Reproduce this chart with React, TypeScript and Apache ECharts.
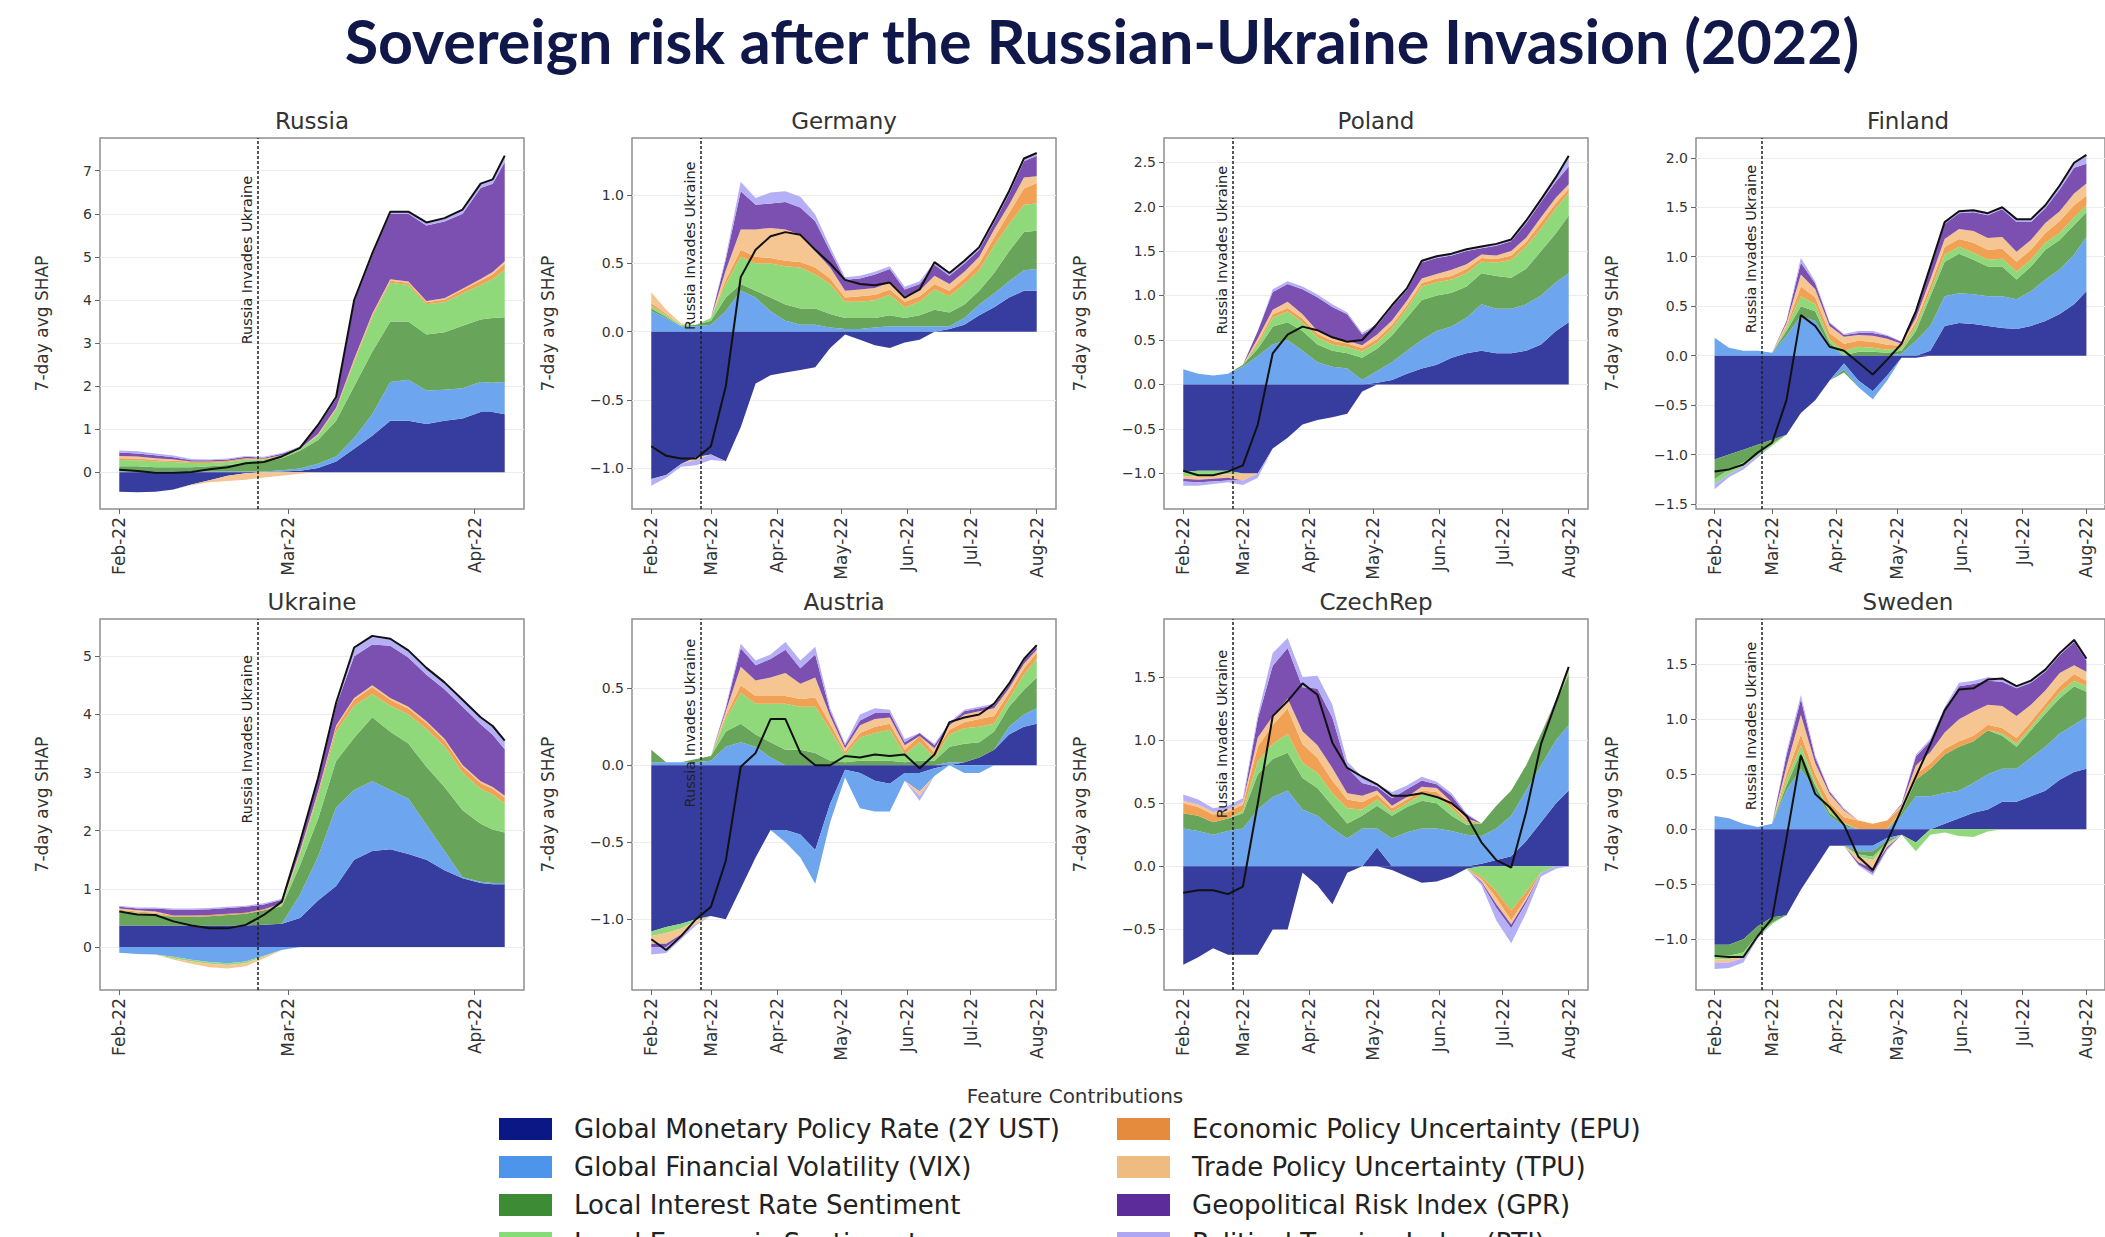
import React, { useEffect, useRef } from 'react';
import * as echarts from 'echarts';

const W = 2105;
const H = 1237;

const FEATURES = [
  'Global Monetary Policy Rate (2Y UST)',
  'Global Financial Volatility (VIX)',
  'Local Interest Rate Sentiment',
  'Local Economic Sentiment',
  'Economic Policy Uncertainty (EPU)',
  'Trade Policy Uncertainty (TPU)',
  'Geopolitical Risk Index (GPR)',
  'Political Tension Index (PTI)',
];
const PLOT_COLORS = ['#363d9f', '#6da6ee', '#69a45b', '#8fd97b', '#f1a153', '#f6c692', '#7b50b1', '#b5aff5'];
const LEGEND_COLORS = ['#0b1785', '#4d95ea', '#3e8b36', '#86dd78', '#e48b3d', '#efbb80', '#5d2c9b', '#aea6f3'];

const INVASION_DATE = '2022-02-24';
const INVASION_TEXT = 'Russia Invades Ukraine';
const Y_NAME = '7-day avg SHAP';
const MAIN_TITLE = 'Sovereign risk after the Russian-Ukraine Invasion (2022)';
const LEGEND_TITLE = 'Feature Contributions';

const SHORT_DATES = ['2022-02-01', '2022-02-04', '2022-02-07', '2022-02-10', '2022-02-13', '2022-02-16', '2022-02-19', '2022-02-22', '2022-02-25', '2022-02-28', '2022-03-03', '2022-03-06', '2022-03-09', '2022-03-12', '2022-03-15', '2022-03-18', '2022-03-21', '2022-03-24', '2022-03-27', '2022-03-30', '2022-04-02', '2022-04-04', '2022-04-06'];
const LONG_DATES = ['2022-02-01', '2022-02-08', '2022-02-15', '2022-02-22', '2022-03-01', '2022-03-08', '2022-03-15', '2022-03-22', '2022-03-29', '2022-04-05', '2022-04-12', '2022-04-19', '2022-04-26', '2022-05-03', '2022-05-10', '2022-05-17', '2022-05-24', '2022-05-31', '2022-06-07', '2022-06-14', '2022-06-21', '2022-06-28', '2022-07-05', '2022-07-12', '2022-07-19', '2022-07-26', '2022-08-01'];

const SHORT_TICK_DATES = ['2022-02-01', '2022-03-01', '2022-04-01'];
const SHORT_TICK_LABELS = ['Feb-22', 'Mar-22', 'Apr-22'];
const LONG_TICK_DATES = ['2022-02-01', '2022-03-01', '2022-04-01', '2022-05-01', '2022-06-01', '2022-07-01', '2022-08-01'];
const LONG_TICK_LABELS = ['Feb-22', 'Mar-22', 'Apr-22', 'May-22', 'Jun-22', 'Jul-22', 'Aug-22'];

// rows: GMPR, VIX, LIRS, LES, EPU, TPU, GPR, PTI
const RUSSIA = [
  [-0.45, -0.46, -0.45, -0.4, -0.28, -0.18, -0.08, -0.02, 0.0, 0.02, 0.04, 0.1, 0.25, 0.55, 0.85, 1.2, 1.2, 1.12, 1.2, 1.25, 1.4, 1.4, 1.35],
  [0.02, 0.02, 0.02, 0.02, 0.02, 0.02, 0.02, 0.02, 0.02, 0.03, 0.05, 0.1, 0.12, 0.25, 0.5, 0.9, 0.95, 0.78, 0.72, 0.7, 0.7, 0.68, 0.75],
  [0.12, 0.12, 0.1, 0.1, 0.1, 0.12, 0.15, 0.2, 0.22, 0.28, 0.41, 0.55, 0.83, 1.2, 1.45, 1.4, 1.35, 1.3, 1.33, 1.45, 1.45, 1.5, 1.5],
  [0.15, 0.14, 0.13, 0.12, 0.1, 0.08, 0.07, 0.08, 0.06, 0.05, 0.05, 0.1, 0.25, 0.55, 0.8, 0.9, 0.85, 0.7, 0.7, 0.75, 0.8, 0.9, 1.1],
  [0.04, 0.04, 0.04, 0.03, 0.03, 0.03, 0.03, 0.03, 0.02, 0.02, 0.0, 0.02, 0.03, 0.05, 0.05, 0.05, 0.05, 0.05, 0.06, 0.08, 0.1, 0.12, 0.15],
  [0.05, 0.05, 0.04, 0.03, -0.02, -0.05, -0.12, -0.15, -0.12, -0.08, -0.03, 0.02, 0.02, 0.03, 0.03, 0.03, 0.03, 0.03, 0.03, 0.03, 0.04, 0.05, 0.05],
  [0.08, 0.07, 0.07, 0.05, 0.03, 0.03, 0.03, 0.03, 0.02, 0.03, 0.03, 0.18, 0.2, 1.32, 1.35, 1.52, 1.57, 1.75, 1.78, 1.74, 2.11, 2.05, 2.3],
  [0.05, 0.05, 0.04, 0.04, 0.03, 0.02, 0.02, 0.02, 0.02, 0.02, 0.02, 0.03, 0.05, 0.05, 0.05, 0.05, 0.05, 0.07, 0.08, 0.1, 0.1, 0.1, 0.15],
];
const UKRAINE = [
  [0.37, 0.37, 0.37, 0.37, 0.37, 0.37, 0.37, 0.37, 0.38, 0.4, 0.5, 0.8, 1.05, 1.5, 1.65, 1.68, 1.6, 1.5, 1.32, 1.18, 1.1, 1.08, 1.08],
  [-0.1, -0.12, -0.13, -0.17, -0.22, -0.26, -0.28, -0.25, -0.15, -0.05, 0.4, 0.75, 1.35, 1.2, 1.2, 1.02, 0.95, 0.6, 0.33, 0.02, 0.02, 0.02, 0.02],
  [0.22, 0.2, 0.18, 0.15, 0.15, 0.16, 0.18, 0.2, 0.25, 0.3, 0.5, 0.65, 0.8, 0.9, 1.1, 1.0, 0.95, 1.0, 1.1, 1.15, 1.0, 0.92, 0.87],
  [0.03, 0.02, 0.02, -0.03, -0.03, -0.03, -0.03, -0.03, -0.02, 0.02, 0.2, 0.4, 0.5, 0.55, 0.4, 0.45, 0.5, 0.65, 0.7, 0.65, 0.6, 0.6, 0.5],
  [0.02, 0.02, 0.02, 0.02, 0.02, 0.02, 0.02, 0.02, 0.02, 0.02, 0.03, 0.05, 0.08, 0.1, 0.12, 0.1, 0.1, 0.1, 0.1, 0.1, 0.1, 0.1, 0.1],
  [0.02, 0.02, 0.02, -0.02, -0.04, -0.06, -0.06, -0.05, -0.03, 0.01, 0.02, 0.02, 0.03, 0.03, 0.03, 0.03, 0.03, 0.03, 0.03, 0.03, 0.03, 0.03, 0.03],
  [0.03, 0.03, 0.05, 0.1, 0.1, 0.1, 0.1, 0.1, 0.08, 0.06, 0.13, 0.2, 0.34, 0.72, 0.7, 0.9, 0.85, 0.8, 0.85, 1.0, 0.98, 0.9, 0.8],
  [0.02, 0.02, 0.02, 0.02, 0.02, 0.02, 0.02, 0.02, 0.02, 0.02, 0.02, 0.03, 0.05, 0.15, 0.15, 0.12, 0.12, 0.12, 0.12, 0.12, 0.12, 0.15, 0.15],
];
const GERMANY = [
  [-1.08, -1.05, -0.97, -0.92, -0.9, -0.95, -0.7, -0.38, -0.32, -0.3, -0.28, -0.26, -0.12, -0.02, -0.06, -0.1, -0.12, -0.08, -0.06, 0.0, 0.02, 0.05, 0.12, 0.18, 0.25, 0.3, 0.3],
  [0.15, 0.1, 0.04, 0.04, 0.05, 0.15, 0.3, 0.25, 0.15, 0.08, 0.05, 0.05, 0.03, 0.02, 0.02, 0.03, 0.04, 0.04, 0.04, 0.04, 0.02, 0.05, 0.08, 0.1, 0.12, 0.15, 0.16],
  [0.02, 0.01, 0.0, 0.01, 0.03, 0.1, 0.05, 0.05, 0.1, 0.12, 0.12, 0.12, 0.1, 0.08, 0.08, 0.07, 0.08, 0.06, 0.08, 0.12, 0.1, 0.1, 0.1, 0.15, 0.22, 0.28, 0.28],
  [0.02, 0.01, 0.01, 0.0, 0.02, 0.1, 0.2, 0.2, 0.25, 0.28, 0.3, 0.25, 0.22, 0.12, 0.12, 0.13, 0.15, 0.08, 0.1, 0.15, 0.12, 0.15, 0.15, 0.2, 0.2, 0.2, 0.2],
  [0.02, 0.01, 0.0, 0.0, 0.0, 0.03, 0.05, 0.05, 0.04, 0.04, 0.04, 0.05, 0.04, 0.03, 0.04, 0.04, 0.04, 0.04, 0.04, 0.04, 0.04, 0.04, 0.05, 0.06, 0.08, 0.12, 0.15],
  [0.08, 0.03, 0.01, -0.02, 0.0, 0.07, 0.15, 0.2, 0.22, 0.23, 0.2, 0.12, 0.08, 0.05, 0.05, 0.05, 0.05, 0.04, 0.04, 0.06, 0.05, 0.05, 0.05, 0.06, 0.06, 0.08, 0.05],
  [0.0, 0.0, 0.0, 0.0, 0.0, 0.08, 0.28, 0.18, 0.18, 0.2, 0.2, 0.22, 0.12, 0.08, 0.08, 0.1, 0.1, 0.05, 0.05, 0.08, 0.06, 0.06, 0.05, 0.05, 0.08, 0.12, 0.15],
  [-0.05, -0.02, -0.02, -0.04, -0.04, 0.02, 0.07, 0.05, 0.08, 0.08, 0.08, 0.05, 0.03, 0.02, 0.02, 0.02, 0.02, 0.02, 0.02, 0.02, 0.02, 0.02, 0.02, 0.02, 0.02, 0.02, 0.02],
];
const POLAND = [
  [-0.98, -0.97, -0.97, -0.97, -1.0, -1.0, -0.72, -0.6, -0.45, -0.4, -0.37, -0.33, -0.08, 0.02, 0.05, 0.12, 0.18, 0.22, 0.3, 0.35, 0.38, 0.35, 0.35, 0.38, 0.45, 0.6, 0.7],
  [0.17, 0.12, 0.1, 0.12, 0.2, 0.32, 0.45, 0.5, 0.38, 0.25, 0.2, 0.18, 0.05, 0.13, 0.2, 0.26, 0.32, 0.38, 0.35, 0.4, 0.52, 0.5, 0.5, 0.52, 0.55, 0.55, 0.55],
  [0.0, 0.0, 0.0, 0.0, 0.02, 0.08, 0.2, 0.2, 0.22, 0.2, 0.18, 0.17, 0.25, 0.25, 0.3, 0.37, 0.45, 0.4, 0.38, 0.35, 0.35, 0.37, 0.35, 0.4, 0.5, 0.55, 0.65],
  [-0.05, -0.06, -0.05, -0.04, 0.0, 0.05, 0.1, 0.12, 0.1, 0.08, 0.07, 0.07, 0.07, 0.07, 0.08, 0.1, 0.15, 0.15, 0.15, 0.15, 0.13, 0.15, 0.2, 0.25, 0.25, 0.28, 0.25],
  [0.0, 0.0, 0.0, 0.0, 0.0, 0.03, 0.04, 0.04, 0.04, 0.04, 0.04, 0.04, 0.04, 0.04, 0.04, 0.04, 0.04, 0.04, 0.04, 0.05, 0.04, 0.04, 0.05, 0.05, 0.07, 0.06, 0.05],
  [-0.03, -0.04, -0.04, -0.04, -0.08, 0.04, 0.05, 0.07, 0.05, 0.03, 0.03, 0.03, 0.03, 0.05, 0.05, 0.05, 0.05, 0.05, 0.07, 0.05, 0.04, 0.04, 0.05, 0.05, 0.06, 0.06, 0.05],
  [-0.03, -0.03, -0.03, -0.03, 0.0, 0.08, 0.2, 0.2, 0.28, 0.38, 0.35, 0.3, 0.12, 0.1, 0.15, 0.12, 0.18, 0.18, 0.16, 0.15, 0.07, 0.11, 0.11, 0.16, 0.17, 0.18, 0.2],
  [-0.05, -0.04, -0.03, -0.02, -0.05, -0.05, 0.03, 0.03, 0.03, 0.03, 0.03, 0.02, 0.02, 0.02, 0.02, 0.02, 0.02, 0.02, 0.02, 0.02, 0.02, 0.02, 0.02, 0.03, 0.03, 0.05, 0.12],
];
const FINLAND = [
  [-1.05, -1.0, -0.95, -0.9, -0.85, -0.8, -0.58, -0.45, -0.25, -0.08, -0.25, -0.36, -0.2, -0.02, -0.02, 0.05, 0.3, 0.33, 0.32, 0.3, 0.28, 0.27, 0.3, 0.35, 0.42, 0.52, 0.65],
  [0.18, 0.08, 0.05, 0.05, 0.03, 0.2, 0.4, 0.35, 0.1, -0.06, -0.07, -0.08, -0.05, 0.02, 0.15, 0.25, 0.3, 0.3, 0.3, 0.3, 0.32, 0.3, 0.35, 0.42, 0.45, 0.5, 0.55],
  [-0.2, -0.15, -0.13, -0.08, -0.04, 0.05, 0.1, 0.1, 0.03, -0.03, 0.04, 0.04, 0.03, 0.03, 0.1, 0.3, 0.35, 0.4, 0.35, 0.3, 0.3, 0.2, 0.25, 0.3, 0.3, 0.3, 0.25],
  [-0.05, -0.05, -0.04, -0.03, -0.02, 0.03, 0.1, 0.07, 0.03, 0.05, 0.05, 0.04, 0.03, 0.03, 0.05, 0.05, 0.07, 0.07, 0.07, 0.07, 0.08, 0.08, 0.07, 0.07, 0.07, 0.08, 0.07],
  [0.0, 0.0, 0.0, 0.0, 0.0, 0.02, 0.1, 0.07, 0.07, 0.07, 0.06, 0.06, 0.05, 0.02, 0.04, 0.06, 0.08, 0.08, 0.1, 0.1, 0.1, 0.1, 0.1, 0.1, 0.12, 0.12, 0.1],
  [0.0, 0.0, 0.0, 0.0, 0.0, 0.03, 0.12, 0.08, 0.07, 0.07, 0.06, 0.06, 0.06, 0.02, 0.04, 0.06, 0.08, 0.1, 0.12, 0.12, 0.12, 0.1, 0.1, 0.1, 0.1, 0.12, 0.12],
  [0.0, 0.0, 0.0, 0.0, 0.0, 0.02, 0.12, 0.06, 0.03, 0.02, 0.02, 0.03, 0.03, 0.02, 0.08, 0.12, 0.15, 0.16, 0.19, 0.23, 0.28, 0.3, 0.18, 0.15, 0.22, 0.26, 0.2],
  [-0.05, -0.03, -0.03, -0.02, 0.0, 0.0, 0.05, 0.02, 0.01, 0.01, 0.02, 0.02, 0.01, 0.0, 0.01, 0.01, 0.02, 0.02, 0.02, 0.02, 0.02, 0.03, 0.03, 0.03, 0.04, 0.05, 0.09],
];
const AUSTRIA = [
  [-1.08, -1.05, -1.03, -1.0, -0.98, -1.0, -0.8, -0.6, -0.42, -0.42, -0.45, -0.55, -0.25, -0.03, -0.05, -0.1, -0.12, -0.05, -0.05, -0.02, 0.0, 0.02, 0.05, 0.1, 0.2, 0.25, 0.27],
  [0.02, 0.02, 0.02, 0.02, 0.03, 0.12, 0.15, 0.12, 0.05, -0.08, -0.15, -0.22, -0.12, -0.05, -0.23, -0.2, -0.18, -0.05, -0.12, -0.05, 0.02, -0.05, -0.05, 0.0, 0.05, 0.08, 0.1],
  [0.08, 0.0, 0.0, 0.02, 0.03, 0.1, 0.12, 0.08, 0.1, 0.1, 0.1, 0.08, 0.03, 0.02, 0.03, 0.03, 0.03, 0.02, 0.03, 0.03, 0.1, 0.12, 0.1, 0.12, 0.13, 0.16, 0.2],
  [-0.03, -0.04, -0.03, -0.01, 0.0, 0.08, 0.2, 0.2, 0.25, 0.3, 0.28, 0.3, 0.2, 0.05, 0.15, 0.18, 0.2, 0.05, 0.12, 0.02, 0.08, 0.1, 0.1, 0.05, 0.05, 0.1, 0.12],
  [0.0, 0.0, 0.0, 0.0, 0.0, 0.02, 0.05, 0.05, 0.05, 0.05, 0.05, 0.06, 0.04, 0.02, 0.03, 0.04, 0.04, 0.03, 0.04, 0.03, 0.03, 0.04, 0.05, 0.05, 0.04, 0.04, 0.04],
  [-0.05, -0.07, -0.04, -0.02, 0.0, 0.03, 0.12, 0.1, 0.12, 0.15, 0.1, 0.13, 0.05, 0.02, 0.05, 0.05, 0.04, 0.03, -0.03, 0.03, 0.03, 0.05, 0.05, 0.05, 0.03, 0.03, 0.02],
  [-0.02, -0.02, -0.01, 0.0, 0.0, 0.02, 0.12, 0.1, 0.12, 0.15, 0.1, 0.15, 0.03, 0.02, 0.03, 0.04, 0.03, 0.02, 0.02, 0.02, 0.01, 0.02, 0.02, 0.02, 0.02, 0.02, 0.02],
  [-0.05, -0.04, -0.02, -0.01, 0.0, 0.01, 0.03, 0.03, 0.03, 0.05, 0.05, 0.05, 0.02, 0.01, 0.04, 0.03, 0.02, 0.02, -0.03, 0.01, 0.01, 0.01, 0.01, 0.01, 0.01, 0.01, 0.01],
];
const CZECHREP = [
  [-0.78, -0.72, -0.65, -0.7, -0.7, -0.7, -0.5, -0.5, -0.05, -0.15, -0.3, -0.05, 0.0, 0.15, -0.03, -0.08, -0.13, -0.12, -0.08, -0.02, 0.02, 0.05, 0.08, 0.2, 0.35, 0.5, 0.6],
  [0.3, 0.28, 0.25, 0.28, 0.3, 0.45, 0.55, 0.6, 0.45, 0.4, 0.3, 0.22, 0.3, 0.15, 0.22, 0.27, 0.3, 0.3, 0.28, 0.25, 0.22, 0.25, 0.32, 0.4, 0.45, 0.5, 0.52],
  [0.12, 0.12, 0.1, 0.1, 0.12, 0.28, 0.3, 0.3, 0.25, 0.22, 0.18, 0.12, 0.1, 0.18, 0.18, 0.2, 0.22, 0.2, 0.12, 0.08, 0.1, 0.18, 0.2, 0.2, 0.25, 0.3, 0.4],
  [0.0, 0.0, 0.0, 0.0, 0.02, 0.1, 0.12, 0.15, 0.12, 0.12, 0.1, 0.12, 0.05, 0.05, 0.03, 0.03, 0.05, 0.06, 0.06, 0.02, -0.08, -0.2, -0.35, -0.2, -0.05, 0.0, 0.02],
  [0.08, 0.07, 0.06, 0.05, 0.05, 0.12, 0.15, 0.2, 0.15, 0.12, 0.1, 0.07, 0.06, 0.04, 0.03, 0.03, 0.03, 0.03, 0.03, 0.02, -0.02, -0.05, -0.08, -0.05, 0.0, 0.01, 0.01],
  [0.02, 0.02, 0.02, 0.02, 0.02, 0.07, 0.07, 0.08, 0.1, 0.1, 0.1, 0.05, 0.05, 0.03, 0.02, 0.02, 0.03, 0.03, 0.02, 0.01, -0.02, -0.05, -0.03, -0.02, 0.0, 0.0, 0.0],
  [0.0, 0.0, 0.0, 0.0, 0.0, 0.15, 0.4, 0.4, 0.35, 0.45, 0.4, 0.2, 0.1, 0.03, 0.06, 0.06, 0.05, 0.03, 0.05, 0.03, -0.01, -0.03, -0.03, -0.02, 0.0, 0.01, 0.0],
  [0.05, 0.04, 0.03, 0.03, 0.03, 0.03, 0.1, 0.08, 0.08, 0.1, 0.1, 0.05, 0.05, 0.02, 0.05, 0.03, 0.03, 0.02, 0.02, 0.01, -0.02, -0.1, -0.12, -0.08, -0.03, -0.02, 0.03],
];
const SWEDEN = [
  [-1.05, -1.05, -1.0, -0.88, -0.8, -0.78, -0.55, -0.35, -0.15, -0.15, -0.15, -0.15, -0.08, -0.05, -0.12, 0.0, 0.05, 0.1, 0.15, 0.18, 0.25, 0.25, 0.3, 0.35, 0.45, 0.52, 0.55],
  [0.12, 0.1, 0.05, 0.02, 0.05, 0.35, 0.55, 0.35, 0.12, 0.03, -0.05, -0.05, -0.02, 0.12, 0.3, 0.3, 0.28, 0.25, 0.27, 0.32, 0.3, 0.3, 0.35, 0.4, 0.42, 0.43, 0.47],
  [-0.1, -0.1, -0.12, -0.08, -0.05, 0.05, 0.15, 0.05, 0.03, 0.02, -0.03, -0.05, -0.02, 0.03, 0.15, 0.25, 0.35, 0.4, 0.38, 0.4, 0.3, 0.2, 0.25, 0.3, 0.32, 0.35, 0.23],
  [-0.03, -0.03, -0.03, -0.02, -0.01, 0.05, 0.06, 0.03, 0.02, 0.01, -0.02, -0.03, -0.02, 0.02, -0.08, -0.05, -0.03, -0.06, -0.07, -0.02, 0.02, 0.03, 0.03, 0.04, 0.05, 0.05, 0.05],
  [0.0, 0.0, 0.0, 0.0, 0.0, 0.05, 0.1, 0.07, 0.07, 0.05, 0.08, 0.05, 0.08, 0.03, 0.05, 0.05, 0.05, 0.05, 0.05, 0.05, 0.05, 0.05, 0.05, 0.05, 0.06, 0.06, 0.05],
  [-0.03, -0.03, -0.02, 0.0, 0.0, 0.07, 0.18, 0.1, 0.08, 0.06, -0.05, -0.08, -0.02, 0.02, 0.08, 0.1, 0.15, 0.2, 0.22, 0.18, 0.2, 0.2, 0.15, 0.12, 0.12, 0.08, 0.08],
  [0.0, 0.0, 0.0, 0.0, 0.0, 0.1, 0.14, 0.05, 0.02, 0.01, -0.02, -0.04, -0.02, 0.01, 0.08, 0.1, 0.2, 0.3, 0.25, 0.22, 0.22, 0.25, 0.2, 0.17, 0.16, 0.21, 0.1],
  [-0.06, -0.05, -0.04, -0.01, 0.0, 0.03, 0.04, 0.02, 0.01, 0.01, -0.01, -0.02, -0.01, 0.0, 0.02, 0.02, 0.03, 0.03, 0.03, 0.03, 0.03, 0.02, 0.02, 0.02, 0.02, 0.02, 0.02],
];

const Y_TICKS_RUSSIA = [0, 1, 2, 3, 4, 5, 6, 7];
const Y_TICKS_UKRAINE = [0, 1, 2, 3, 4, 5];
const Y_TICKS_GERMANY = [-1.0, -0.5, 0.0, 0.5, 1.0];
const Y_TICKS_POLAND = [-1.0, -0.5, 0.0, 0.5, 1.0, 1.5, 2.0, 2.5];
const Y_TICKS_FINLAND = [-1.5, -1.0, -0.5, 0.0, 0.5, 1.0, 1.5, 2.0];
const Y_TICKS_AUSTRIA = [-1.0, -0.5, 0.0, 0.5];
const Y_TICKS_CZECH = [-0.5, 0.0, 0.5, 1.0, 1.5];
const Y_TICKS_SWEDEN = [-1.0, -0.5, 0.0, 0.5, 1.0, 1.5];

const ts = (s: string) => Date.UTC(+s.slice(0, 4), +s.slice(5, 7) - 1, +s.slice(8, 10));

type Panel = {
  title: string; dates: string[]; values: number[][]; yMin: number; yMax: number; yTicks: number[]; dec: number;
  tickDates: string[]; tickLabels: string[]; labelTop: number; row: number; col: number;
};

const PANELS: Panel[] = [
  { title: 'Russia', dates: SHORT_DATES, values: RUSSIA, yMin: -0.85, yMax: 7.76, yTicks: Y_TICKS_RUSSIA, dec: 0, tickDates: SHORT_TICK_DATES, tickLabels: SHORT_TICK_LABELS, labelTop: 6.95, row: 0, col: 0 },
  { title: 'Germany', dates: LONG_DATES, values: GERMANY, yMin: -1.3, yMax: 1.42, yTicks: Y_TICKS_GERMANY, dec: 1, tickDates: LONG_TICK_DATES, tickLabels: LONG_TICK_LABELS, labelTop: 1.27, row: 0, col: 1 },
  { title: 'Poland', dates: LONG_DATES, values: POLAND, yMin: -1.4, yMax: 2.77, yTicks: Y_TICKS_POLAND, dec: 1, tickDates: LONG_TICK_DATES, tickLabels: LONG_TICK_LABELS, labelTop: 2.49, row: 0, col: 2 },
  { title: 'Finland', dates: LONG_DATES, values: FINLAND, yMin: -1.55, yMax: 2.2, yTicks: Y_TICKS_FINLAND, dec: 1, tickDates: LONG_TICK_DATES, tickLabels: LONG_TICK_LABELS, labelTop: 1.96, row: 0, col: 3 },
  { title: 'Ukraine', dates: SHORT_DATES, values: UKRAINE, yMin: -0.74, yMax: 5.64, yTicks: Y_TICKS_UKRAINE, dec: 0, tickDates: SHORT_TICK_DATES, tickLabels: SHORT_TICK_LABELS, labelTop: 5.07, row: 1, col: 0 },
  { title: 'Austria', dates: LONG_DATES, values: AUSTRIA, yMin: -1.46, yMax: 0.95, yTicks: Y_TICKS_AUSTRIA, dec: 1, tickDates: LONG_TICK_DATES, tickLabels: LONG_TICK_LABELS, labelTop: 0.84, row: 1, col: 1 },
  { title: 'CzechRep', dates: LONG_DATES, values: CZECHREP, yMin: -0.98, yMax: 1.96, yTicks: Y_TICKS_CZECH, dec: 1, tickDates: LONG_TICK_DATES, tickLabels: LONG_TICK_LABELS, labelTop: 1.74, row: 1, col: 2 },
  { title: 'Sweden', dates: LONG_DATES, values: SWEDEN, yMin: -1.46, yMax: 1.91, yTicks: Y_TICKS_SWEDEN, dec: 1, tickDates: LONG_TICK_DATES, tickLabels: LONG_TICK_LABELS, labelTop: 1.73, row: 1, col: 3 },
];

const GRID_LEFTS = [100, 632, 1164, 1696];
const GRID_TOPS = [138, 619];
const GRID_W = 424;
const GRID_H = 371;
const NAME_GAPS = [50, 76, 76, 76];

const LEGEND_COL_X = [499, 1117];
const LEGEND_ROW_Y = [1129, 1167, 1205, 1243];

const fmtY = (v: number, dec: number) => {
  const s = Math.abs(v).toFixed(dec);
  return v < -1e-9 ? '\u2212' + s : s;
};

function buildOption() {
  const grids: any[] = [];
  const xAxes: any[] = [];
  const yAxes: any[] = [];
  const series: any[] = [];
  const graphics: any[] = [];

  PANELS.forEach((p, i) => {
    const left = GRID_LEFTS[p.col];
    const top = GRID_TOPS[p.row];
    grids.push({ left, top, width: GRID_W, height: GRID_H, show: true, borderColor: '#8f8f8f', borderWidth: 1.5, backgroundColor: 'transparent' });

    const t0 = ts(p.dates[0]);
    const t1 = ts(p.dates[p.dates.length - 1]);
    const pad = (t1 - t0) * 0.05;
    const tickTs = p.tickDates.map(ts);
    // time axis carrying the data (its own ticks hidden)
    xAxes.push({
      type: 'time', gridIndex: i, min: t0 - pad, max: t1 + pad,
      axisLine: { show: false }, splitLine: { show: false }, axisTick: { show: false }, axisLabel: { show: false },
    });
    // overlay value axis with the month ticks
    xAxes.push({
      type: 'value', gridIndex: i, min: t0 - pad, max: t1 + pad, position: 'bottom',
      axisLine: { show: false }, splitLine: { show: false },
      axisTick: { show: true, customValues: tickTs, length: 5, lineStyle: { color: '#666' } },
      axisLabel: {
        customValues: tickTs, rotate: 90, fontSize: 17, color: '#333', margin: 8,
        formatter: (v: number) => { const k = tickTs.indexOf(v); return k >= 0 ? p.tickLabels[k] : ''; },
      },
    });
    yAxes.push({
      type: 'value', gridIndex: i, min: p.yMin, max: p.yMax,
      axisLine: { show: false },
      axisTick: { show: true, customValues: p.yTicks, length: 5, lineStyle: { color: '#666' } },
      axisLabel: { customValues: p.yTicks, fontSize: 14, color: '#333', margin: 8, formatter: (v: number) => fmtY(v, p.dec) },
      splitLine: { show: true, lineStyle: { color: '#ececec', width: 1 } },
      name: Y_NAME, nameLocation: 'middle', nameGap: NAME_GAPS[p.col],
      nameTextStyle: { fontSize: 17, color: '#333' },
    });

    // positive parts stack upward, negative parts stack downward (same feature order)
    (['pos', 'neg'] as const).forEach((side) => {
      p.values.forEach((arr, f) => {
        series.push({
          type: 'line', name: FEATURES[f], xAxisIndex: 2 * i, yAxisIndex: i,
          stack: side + i, stackStrategy: 'all',
          data: p.dates.map((d, k) => [ts(d), side === 'pos' ? Math.max(arr[k], 0) : Math.min(arr[k], 0)]),
          symbol: 'none', showSymbol: false, color: LEGEND_COLORS[f],
          lineStyle: { width: 0 }, areaStyle: { color: PLOT_COLORS[f], opacity: 1 },
          emphasis: { disabled: true }, silent: true, z: 2,
        });
      });
    });

    const invTs = ts(INVASION_DATE);
    series.push({
      type: 'line', name: 'Total ' + p.title, xAxisIndex: 2 * i, yAxisIndex: i,
      data: p.dates.map((d, k) => [ts(d), p.values.reduce((a, arr) => a + arr[k], 0)]),
      symbol: 'none', showSymbol: false, lineStyle: { color: '#111', width: 2 }, color: '#111',
      emphasis: { disabled: true }, silent: true, z: 5,
      markLine: {
        silent: true, symbol: ['none', 'none'], animation: false,
        label: { show: false },
        data: [
          { xAxis: invTs, lineStyle: { type: [3, 2], color: '#222', width: 1.5 }, label: { show: false } },
          [
            { coord: [invTs, p.yMin] },
            {
              coord: [invTs, p.labelTop], lineStyle: { color: 'rgba(0,0,0,0)', width: 0, opacity: 1 },
              label: { show: true, position: 'insideEndTop', formatter: INVASION_TEXT, fontSize: 14.5, color: '#222', opacity: 1, distance: 3 },
            },
          ],
        ],
      },
    });

    graphics.push({
      type: 'text', x: left + GRID_W / 2, y: top - 17,
      style: { text: p.title, fontSize: 23, fill: '#333', align: 'center', verticalAlign: 'middle', fontFamily: 'DejaVu Sans' },
    });
  });

  graphics.push({
    type: 'text', x: 1102, y: 40,
    style: { text: MAIN_TITLE, fontSize: 61, fontWeight: 'bold', fontFamily: 'Lato', fill: '#10184a', align: 'center', verticalAlign: 'middle' },
  });
  graphics.push({
    type: 'text', x: 1075, y: 1096,
    style: { text: LEGEND_TITLE, fontSize: 20, fill: '#333', align: 'center', verticalAlign: 'middle', fontFamily: 'DejaVu Sans' },
  });

  FEATURES.forEach((name, k) => {
    const col = k < 4 ? 0 : 1;
    const row = k % 4;
    const x = LEGEND_COL_X[col];
    const y = LEGEND_ROW_Y[row];
    graphics.push({ type: 'rect', shape: { x, y: y - 11, width: 53, height: 22 }, style: { fill: LEGEND_COLORS[k] }, silent: true });
    graphics.push({
      type: 'text', x: x + 75, y,
      style: { text: name, fontSize: 26, fill: '#222', align: 'left', verticalAlign: 'middle', fontFamily: 'DejaVu Sans' },
      silent: true,
    });
  });

  return {
    animation: false,
    backgroundColor: '#ffffff',
    textStyle: { fontFamily: 'DejaVu Sans' },
    grid: grids, xAxis: xAxes, yAxis: yAxes, series, graphic: graphics,
  };
}

export default function App() {
  const ref = useRef<HTMLDivElement>(null);
  useEffect(() => {
    if (!ref.current) return;
    const chart = echarts.init(ref.current, null, { renderer: 'svg', width: W, height: H });
    chart.setOption(buildOption() as any);
    return () => chart.dispose();
  }, []);
  return <div ref={ref} style={{ position: 'absolute', left: 0, top: 0, width: W, height: H, background: '#fff' }} />;
}
